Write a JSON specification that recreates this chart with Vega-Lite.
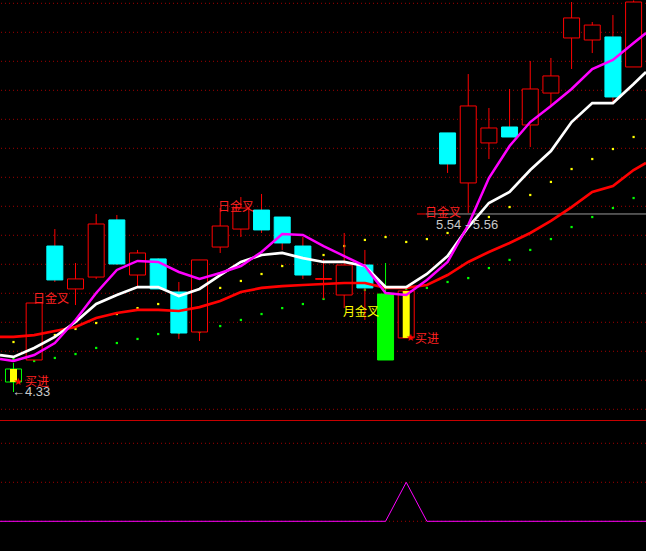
{
  "$schema": "https://vega.github.io/schema/vega-lite/v6.json",
  "background": "#000000",
  "padding": 0,
  "spacing": 0,
  "config": {"view": {"stroke": null}, "scale": {"continuousPadding": 0}},
  "datasets": {
    "candles": [
      {"i":0,"top":4.478,"bot":4.388,"h":4.519,"l":4.319,"k":"gh","s":1},
      {"i":1,"top":4.933,"bot":4.540,"h":4.933,"l":4.540,"k":"up","s":0},
      {"i":2,"top":5.326,"bot":5.092,"h":5.443,"l":5.078,"k":"down","s":0},
      {"i":3,"top":5.099,"bot":5.030,"h":5.209,"l":4.919,"k":"up","s":0},
      {"i":4,"top":5.478,"bot":5.112,"h":5.547,"l":5.099,"k":"up","s":0},
      {"i":5,"top":5.506,"bot":5.202,"h":5.540,"l":5.195,"k":"down","s":0},
      {"i":6,"top":5.278,"bot":5.126,"h":5.299,"l":5.043,"k":"up","s":0},
      {"i":7,"top":5.237,"bot":5.030,"h":5.243,"l":5.030,"k":"down","s":0},
      {"i":8,"top":5.009,"bot":4.726,"h":5.078,"l":4.685,"k":"down","s":0},
      {"i":9,"top":5.230,"bot":4.733,"h":5.230,"l":4.671,"k":"up","s":0},
      {"i":10,"top":5.464,"bot":5.319,"h":5.588,"l":5.278,"k":"up","s":0},
      {"i":11,"top":5.588,"bot":5.443,"h":5.664,"l":5.388,"k":"up","s":0},
      {"i":12,"top":5.574,"bot":5.437,"h":5.685,"l":5.416,"k":"down","s":0},
      {"i":13,"top":5.526,"bot":5.347,"h":5.526,"l":5.299,"k":"down","s":0},
      {"i":14,"top":5.326,"bot":5.126,"h":5.388,"l":5.099,"k":"down","s":0},
      {"i":15,"top":5.102,"bot":5.096,"h":5.237,"l":4.961,"k":"up","s":0},
      {"i":16,"top":5.195,"bot":4.988,"h":5.416,"l":4.898,"k":"up","s":0},
      {"i":17,"top":5.195,"bot":5.037,"h":5.299,"l":4.816,"k":"down","s":0},
      {"i":18,"top":4.995,"bot":4.540,"h":5.209,"l":4.540,"k":"g","s":0},
      {"i":19,"top":5.016,"bot":4.692,"h":5.016,"l":4.692,"k":"up","s":1},
      {"i":21,"top":6.106,"bot":5.892,"h":6.106,"l":5.830,"k":"down","s":0},
      {"i":22,"top":6.292,"bot":5.761,"h":6.512,"l":5.554,"k":"up","s":0},
      {"i":23,"top":6.140,"bot":6.037,"h":6.278,"l":5.926,"k":"up","s":0},
      {"i":24,"top":6.147,"bot":6.078,"h":6.409,"l":6.078,"k":"down","s":0},
      {"i":25,"top":6.409,"bot":6.161,"h":6.602,"l":6.009,"k":"up","s":0},
      {"i":26,"top":6.499,"bot":6.381,"h":6.623,"l":6.285,"k":"up","s":0},
      {"i":27,"top":6.899,"bot":6.761,"h":7.009,"l":6.547,"k":"up","s":0},
      {"i":28,"top":6.850,"bot":6.747,"h":6.871,"l":6.657,"k":"up","s":0},
      {"i":29,"top":6.768,"bot":6.354,"h":6.919,"l":6.319,"k":"down","s":0},
      {"i":30,"top":7.009,"bot":6.561,"h":7.020,"l":6.561,"k":"up","s":0}
    ],
    "ma": [
      {"i":-0.653,"w":4.574,"m":4.547,"r":4.699},
      {"i":0,"w":4.561,"m":4.533,"r":4.699},
      {"i":1,"w":4.623,"m":4.574,"r":4.712},
      {"i":2,"w":4.699,"m":4.657,"r":4.740},
      {"i":3,"w":4.802,"m":4.816,"r":4.767},
      {"i":4,"w":4.926,"m":5.002,"r":4.830},
      {"i":5,"w":4.988,"m":5.161,"r":4.864},
      {"i":6,"w":5.043,"m":5.223,"r":4.885},
      {"i":7,"w":5.043,"m":5.216,"r":4.885},
      {"i":8,"w":4.981,"m":5.147,"r":4.878},
      {"i":9,"w":5.030,"m":5.099,"r":4.905},
      {"i":10,"w":5.126,"m":5.140,"r":4.947},
      {"i":11,"w":5.216,"m":5.188,"r":5.009},
      {"i":12,"w":5.264,"m":5.285,"r":5.037},
      {"i":13,"w":5.278,"m":5.409,"r":5.050},
      {"i":14,"w":5.243,"m":5.402,"r":5.057},
      {"i":15,"w":5.216,"m":5.326,"r":5.064},
      {"i":16,"w":5.216,"m":5.257,"r":5.071},
      {"i":17,"w":5.188,"m":5.188,"r":5.071},
      {"i":18,"w":5.043,"m":5.002,"r":5.037},
      {"i":19,"w":5.043,"m":4.988,"r":5.037},
      {"i":20,"w":5.133,"m":5.092,"r":5.057},
      {"i":21,"w":5.257,"m":5.216,"r":5.126},
      {"i":22,"w":5.457,"m":5.471,"r":5.216},
      {"i":23,"w":5.623,"m":5.795,"r":5.285},
      {"i":24,"w":5.699,"m":6.016,"r":5.347},
      {"i":25,"w":5.850,"m":6.181,"r":5.416},
      {"i":26,"w":5.981,"m":6.292,"r":5.499},
      {"i":27,"w":6.181,"m":6.409,"r":5.595},
      {"i":28,"w":6.312,"m":6.547,"r":5.699},
      {"i":29,"w":6.312,"m":6.609,"r":5.740},
      {"i":30,"w":6.443,"m":6.726,"r":5.850},
      {"i":30.6,"w":6.526,"m":6.795,"r":5.899}
    ],
    "dots": [
      {"i":0,"yd":4.664,"gd":4.547},{"i":1,"yd":4.678,"gd":4.533},{"i":2,"yd":4.712,"gd":4.554},
      {"i":3,"yd":4.754,"gd":4.581},{"i":4,"yd":4.795,"gd":4.623},{"i":5,"yd":4.857,"gd":4.657},
      {"i":6,"yd":4.898,"gd":4.685},{"i":7,"yd":4.926,"gd":4.719},{"i":8,"yd":4.961,"gd":4.726},
      {"i":9,"yd":4.988,"gd":4.733},{"i":10,"yd":5.037,"gd":4.774},{"i":11,"yd":5.085,"gd":4.816},
      {"i":12,"yd":5.133,"gd":4.857},{"i":13,"yd":5.188,"gd":4.898},{"i":14,"yd":5.237,"gd":4.926},
      {"i":15,"yd":5.264,"gd":4.961},{"i":16,"yd":5.326,"gd":4.995},{"i":17,"yd":5.368,"gd":5.023},
      {"i":18,"yd":5.388,"gd":5.037},{"i":19,"yd":5.354,"gd":5.030},{"i":20,"yd":5.374,"gd":5.037},
      {"i":21,"yd":5.416,"gd":5.078},{"i":22,"yd":5.464,"gd":5.105},{"i":23,"yd":5.526,"gd":5.174},
      {"i":24,"yd":5.595,"gd":5.230},{"i":25,"yd":5.678,"gd":5.299},{"i":26,"yd":5.768,"gd":5.374},
      {"i":27,"yd":5.857,"gd":5.457},{"i":28,"yd":5.926,"gd":5.526},{"i":29,"yd":5.995,"gd":5.588},
      {"i":30,"yd":6.078,"gd":5.657}
    ],
    "grid": [
      {"g":7.0},{"g":6.8},{"g":6.6},{"g":6.4},{"g":6.2},{"g":6.0},{"g":5.8},{"g":5.6},
      {"g":5.4},{"g":5.2},{"g":5.0},{"g":4.8},{"g":4.6},{"g":4.4},{"g":4.2}
    ],
    "annot": [
      {"i":19.52,"i2":19.95,"p":5.547,"k":"red"},
      {"i":19.95,"i2":30.6,"p":5.547,"k":"gray"}
    ],
    "redlabels": [
      {"i":0.943,"p":4.961,"t":"日金叉"},
      {"i":9.894,"p":5.598,"t":"日金叉"},
      {"i":19.91,"p":5.557,"t":"日金叉"},
      {"i":0.556,"p":4.385,"t":"买进"},
      {"i":19.42,"p":4.688,"t":"买进"}
    ],
    "yellowlabels": [
      {"i":15.94,"p":4.874,"t":"月金叉"}
    ],
    "stars": [
      {"i":0.218,"p":4.385},
      {"i":19.21,"p":4.695}
    ],
    "numlabels": [
      {"i":20.44,"p":5.471,"t":"5.54 - 5.56"},
      {"i":-0.073,"p":4.316,"t":"←4.33"}
    ],
    "sig": [
      {"i":-0.653,"v":0},{"i":18,"v":0},{"i":19,"v":1},{"i":20,"v":0},{"i":30.6,"v":0}
    ],
    "lgrid": [{"v":0},{"v":1},{"v":2}],
    "lsep": [{"v":2.585}]
  },
  "vconcat": [
    {
      "width": 646,
      "height": 420,
      "layer": [
        {
          "data": {"name": "grid"},
          "mark": {"type": "rule", "color": "#a00000", "strokeDash": [1, 3], "strokeWidth": 1, "clip": true},
          "encoding": {
            "y": {"field": "g", "type": "quantitative", "scale": {"domain": [4.1261, 7.0228], "nice": false, "zero": false, "padding": 0}, "axis": null}
          }
        },
        {
          "data": {"name": "dots"},
          "mark": {"type": "square", "size": 5, "filled": true, "opacity": 1, "color": "#ffff00", "clip": true},
          "encoding": {
            "x": {"field": "i", "type": "quantitative", "scale": {"domain": [-0.653, 30.6], "nice": false, "zero": false, "padding": 0}, "axis": null},
            "y": {"field": "yd", "type": "quantitative", "scale": {"domain": [4.1261, 7.0228], "nice": false, "zero": false, "padding": 0}, "axis": null}
          }
        },
        {
          "data": {"name": "dots"},
          "mark": {"type": "square", "size": 5, "filled": true, "opacity": 1, "color": "#00ff00", "clip": true},
          "encoding": {
            "x": {"field": "i", "type": "quantitative", "scale": {"domain": [-0.653, 30.6], "nice": false, "zero": false, "padding": 0}, "axis": null},
            "y": {"field": "gd", "type": "quantitative", "scale": {"domain": [4.1261, 7.0228], "nice": false, "zero": false, "padding": 0}, "axis": null}
          }
        },
        {
          "data": {"name": "candles"},
          "transform": [{"filter": "datum.k == 'up' || datum.k == 'down'"}],
          "mark": {"type": "rule", "color": "#ff0000", "strokeWidth": 1, "clip": true},
          "encoding": {
            "x": {"field": "i", "type": "quantitative", "scale": {"domain": [-0.653, 30.6], "nice": false, "zero": false, "padding": 0}, "axis": null},
            "y": {"field": "h", "type": "quantitative", "scale": {"domain": [4.1261, 7.0228], "nice": false, "zero": false, "padding": 0}, "axis": null},
            "y2": {"field": "l"}
          }
        },
        {
          "data": {"name": "candles"},
          "transform": [{"filter": "datum.k == 'g' || datum.k == 'gh'"}],
          "mark": {"type": "rule", "color": "#00ff00", "strokeWidth": 1, "clip": true},
          "encoding": {
            "x": {"field": "i", "type": "quantitative", "scale": {"domain": [-0.653, 30.6], "nice": false, "zero": false, "padding": 0}, "axis": null},
            "y": {"field": "h", "type": "quantitative", "scale": {"domain": [4.1261, 7.0228], "nice": false, "zero": false, "padding": 0}, "axis": null},
            "y2": {"field": "l"}
          }
        },
        {
          "data": {"name": "candles"},
          "mark": {"type": "bar", "width": 16, "strokeWidth": 1, "clip": true},
          "encoding": {
            "x": {"field": "i", "type": "quantitative", "scale": {"domain": [-0.653, 30.6], "nice": false, "zero": false, "padding": 0}, "axis": null},
            "y": {"field": "top", "type": "quantitative", "scale": {"domain": [4.1261, 7.0228], "nice": false, "zero": false, "padding": 0}, "axis": null},
            "y2": {"field": "bot"},
            "fill": {"field": "k", "type": "nominal", "scale": {"domain": ["up", "down", "g", "gh"], "range": ["#000000", "#00ffff", "#00ff00", "#000000"]}, "legend": null},
            "stroke": {"field": "k", "type": "nominal", "scale": {"domain": ["up", "down", "g", "gh"], "range": ["#ff0000", "#00ffff", "#00ff00", "#00ff00"]}, "legend": null}
          }
        },
        {
          "data": {"name": "candles"},
          "transform": [{"filter": "datum.s == 1"}],
          "mark": {"type": "bar", "width": 7, "color": "#ffff00", "clip": true},
          "encoding": {
            "x": {"field": "i", "type": "quantitative", "scale": {"domain": [-0.653, 30.6], "nice": false, "zero": false, "padding": 0}, "axis": null},
            "y": {"field": "top", "type": "quantitative", "scale": {"domain": [4.1261, 7.0228], "nice": false, "zero": false, "padding": 0}, "axis": null},
            "y2": {"field": "bot"}
          }
        },
        {
          "data": {"name": "annot"},
          "mark": {"type": "rule", "strokeWidth": 1, "clip": true},
          "encoding": {
            "x": {"field": "i", "type": "quantitative", "scale": {"domain": [-0.653, 30.6], "nice": false, "zero": false, "padding": 0}, "axis": null},
            "x2": {"field": "i2"},
            "y": {"field": "p", "type": "quantitative", "scale": {"domain": [4.1261, 7.0228], "nice": false, "zero": false, "padding": 0}, "axis": null},
            "color": {"field": "k", "type": "nominal", "scale": {"domain": ["red", "gray"], "range": ["#ff0000", "#9a9a9a"]}, "legend": null}
          }
        },
        {
          "data": {"name": "ma"},
          "mark": {"type": "line", "color": "#ff0000", "strokeWidth": 2.7, "clip": true},
          "encoding": {
            "x": {"field": "i", "type": "quantitative", "scale": {"domain": [-0.653, 30.6], "nice": false, "zero": false, "padding": 0}, "axis": null},
            "y": {"field": "r", "type": "quantitative", "scale": {"domain": [4.1261, 7.0228], "nice": false, "zero": false, "padding": 0}, "axis": null}
          }
        },
        {
          "data": {"name": "ma"},
          "mark": {"type": "line", "color": "#ffffff", "strokeWidth": 2.7, "clip": true},
          "encoding": {
            "x": {"field": "i", "type": "quantitative", "scale": {"domain": [-0.653, 30.6], "nice": false, "zero": false, "padding": 0}, "axis": null},
            "y": {"field": "w", "type": "quantitative", "scale": {"domain": [4.1261, 7.0228], "nice": false, "zero": false, "padding": 0}, "axis": null}
          }
        },
        {
          "data": {"name": "ma"},
          "mark": {"type": "line", "color": "#ff00ff", "strokeWidth": 2.5, "clip": true},
          "encoding": {
            "x": {"field": "i", "type": "quantitative", "scale": {"domain": [-0.653, 30.6], "nice": false, "zero": false, "padding": 0}, "axis": null},
            "y": {"field": "m", "type": "quantitative", "scale": {"domain": [4.1261, 7.0228], "nice": false, "zero": false, "padding": 0}, "axis": null}
          }
        },
        {
          "data": {"name": "redlabels"},
          "mark": {"type": "text", "align": "left", "baseline": "middle", "font": "Noto Sans CJK SC", "fontSize": 12, "color": "#ff2020", "clip": true},
          "encoding": {
            "x": {"field": "i", "type": "quantitative", "scale": {"domain": [-0.653, 30.6], "nice": false, "zero": false, "padding": 0}, "axis": null},
            "y": {"field": "p", "type": "quantitative", "scale": {"domain": [4.1261, 7.0228], "nice": false, "zero": false, "padding": 0}, "axis": null},
            "text": {"field": "t"}
          }
        },
        {
          "data": {"name": "yellowlabels"},
          "mark": {"type": "text", "align": "left", "baseline": "middle", "font": "Noto Sans CJK SC", "fontSize": 12, "color": "#ffff00", "clip": true},
          "encoding": {
            "x": {"field": "i", "type": "quantitative", "scale": {"domain": [-0.653, 30.6], "nice": false, "zero": false, "padding": 0}, "axis": null},
            "y": {"field": "p", "type": "quantitative", "scale": {"domain": [4.1261, 7.0228], "nice": false, "zero": false, "padding": 0}, "axis": null},
            "text": {"field": "t"}
          }
        },
        {
          "data": {"name": "stars"},
          "mark": {"type": "text", "align": "center", "baseline": "middle", "font": "DejaVu Sans", "fontSize": 10, "color": "#ff0000", "text": "★", "clip": true},
          "encoding": {
            "x": {"field": "i", "type": "quantitative", "scale": {"domain": [-0.653, 30.6], "nice": false, "zero": false, "padding": 0}, "axis": null},
            "y": {"field": "p", "type": "quantitative", "scale": {"domain": [4.1261, 7.0228], "nice": false, "zero": false, "padding": 0}, "axis": null}
          }
        },
        {
          "data": {"name": "numlabels"},
          "mark": {"type": "text", "align": "left", "baseline": "middle", "font": "Liberation Sans", "fontSize": 13, "color": "#c8c8c8", "clip": true},
          "encoding": {
            "x": {"field": "i", "type": "quantitative", "scale": {"domain": [-0.653, 30.6], "nice": false, "zero": false, "padding": 0}, "axis": null},
            "y": {"field": "p", "type": "quantitative", "scale": {"domain": [4.1261, 7.0228], "nice": false, "zero": false, "padding": 0}, "axis": null},
            "text": {"field": "t"}
          }
        }
      ]
    },
    {
      "width": 646,
      "height": 131,
      "layer": [
        {
          "data": {"name": "lgrid"},
          "mark": {"type": "rule", "color": "#a00000", "strokeDash": [1, 3], "strokeWidth": 1, "clip": true},
          "encoding": {
            "y": {"field": "v", "type": "quantitative", "scale": {"domain": [-0.762, 2.597], "nice": false, "zero": false, "padding": 0}, "axis": null}
          }
        },
        {
          "data": {"name": "lsep"},
          "mark": {"type": "rule", "color": "#d00000", "strokeWidth": 1, "clip": true},
          "encoding": {
            "y": {"field": "v", "type": "quantitative", "scale": {"domain": [-0.762, 2.597], "nice": false, "zero": false, "padding": 0}, "axis": null}
          }
        },
        {
          "data": {"name": "sig"},
          "mark": {"type": "line", "color": "#ff00ff", "strokeWidth": 1, "clip": true},
          "encoding": {
            "x": {"field": "i", "type": "quantitative", "scale": {"domain": [-0.653, 30.6], "nice": false, "zero": false, "padding": 0}, "axis": null},
            "y": {"field": "v", "type": "quantitative", "scale": {"domain": [-0.762, 2.597], "nice": false, "zero": false, "padding": 0}, "axis": null}
          }
        }
      ]
    }
  ]
}
